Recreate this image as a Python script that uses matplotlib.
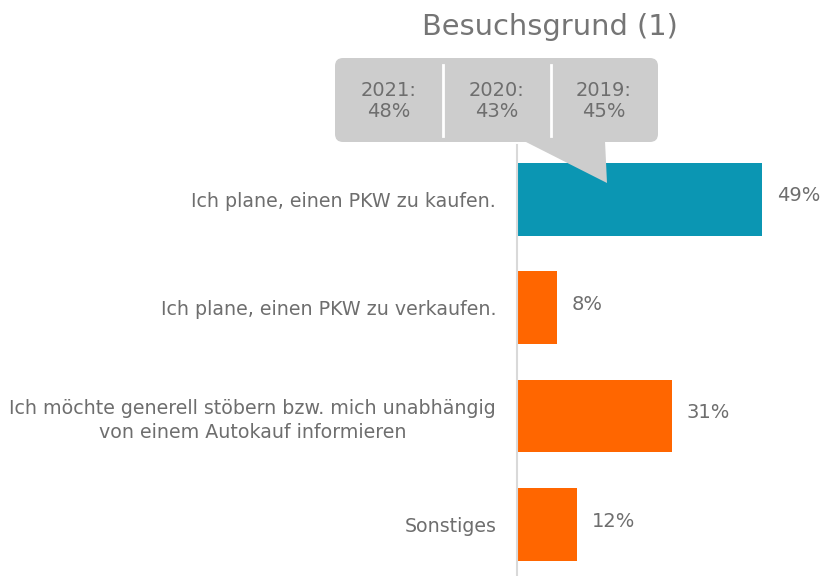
import numpy as np
import matplotlib.pyplot as plt
from matplotlib.patches import FancyBboxPatch, Polygon

categories = [
    'Ich plane, einen PKW zu kaufen.',
    'Ich plane, einen PKW zu verkaufen.',
    'Ich möchte generell stöbern bzw. mich unabhängig\nvon einem Autokauf informieren',
    'Sonstiges',
]
values = [49, 8, 31, 12]
bar_colors = ['#0b96b3', '#ff6600', '#ff6600', '#ff6600']

prev_years = ['2021', '2020', '2019']
prev_values = [48, 43, 45]

title = 'Besuchsgrund (1)'
GREY = '#6e6e6e'

W, H = 828, 576
fig = plt.figure(figsize=(W / 100, H / 100), dpi=100)

# main bar axes
ax = fig.add_axes([517 / W, 0, 1 - 517 / W, (576 - 145) / H])
y = np.arange(len(categories))
ax.barh(y, values, height=0.67, color=bar_colors, zorder=2)
ax.set_xlim(0, 62.2)
ax.set_ylim(3.475, -0.5)
for yi, v in zip(y, values):
    ax.text(v + 3.0, yi - 0.03, f'{v}%', va='center', ha='left', fontsize=14, color=GREY)
ax.set_yticks(y)
ax.set_yticklabels(categories, fontsize=13.7, color=GREY, multialignment='center')
for lbl in ax.get_yticklabels():
    lbl.set_linespacing(1.35)
ax.tick_params(axis='y', length=0, pad=15)
ax.set_xticks([])
for s in ['top', 'right', 'bottom']:
    ax.spines[s].set_visible(False)
ax.spines['left'].set_color('#d9d9d9')
ax.spines['left'].set_linewidth(1.5)

# overlay in pixel coordinates for title and callout
ov = fig.add_axes([0, 0, 1, 1], zorder=5)
ov.set_xlim(0, W)
ov.set_ylim(H, 0)
ov.axis('off')
ov.patch.set_alpha(0)

ov.text(550, 27, title, ha='center', va='center', fontsize=20.8, color='#757575')

box_col = '#cdcdcd'
ov.add_patch(FancyBboxPatch((335 + 8, 58 + 8), 323 - 16, 84 - 16,
                            boxstyle='round,pad=8', fc=box_col, ec='none'))
ov.add_patch(Polygon([(524, 141), (605, 141), (607, 183)], closed=True,
                     fc=box_col, ec='none'))
for xs in [443, 551]:
    ov.plot([xs, xs], [65, 136], color='white', lw=2)
centers = [389, 497, 604]
for cx, yr, pv in zip(centers, prev_years, prev_values):
    ov.text(cx, 101, f'{yr}:\n{pv}%', ha='center', va='center', fontsize=14,
            color=GREY, linespacing=1.15)

fig.savefig('out.png', dpi=100)
